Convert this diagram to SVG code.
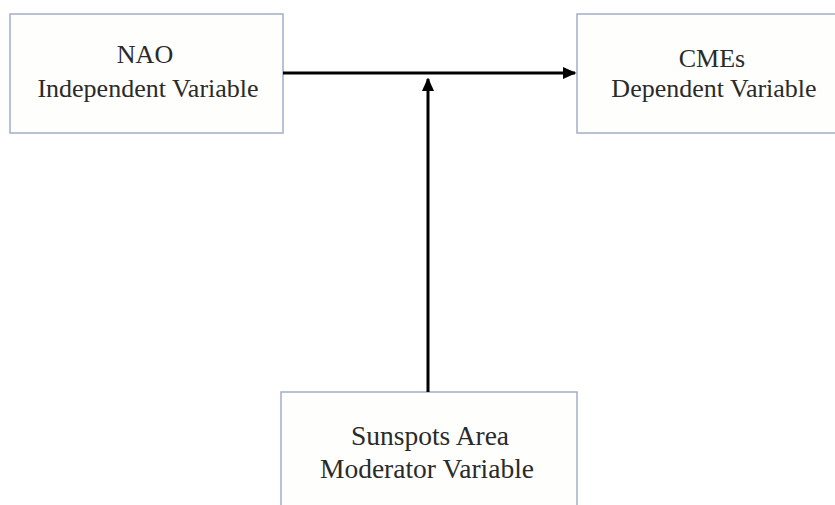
<svg xmlns="http://www.w3.org/2000/svg" width="835" height="505" viewBox="0 0 835 505">
<defs>
<style>
.box{fill:#fefefc;stroke:#a3afc6;stroke-width:1.5}
.t{font-family:"Liberation Serif","Times New Roman",serif;font-size:26px;fill:#2a2a2a;text-anchor:middle}
.b{font-size:27.5px}
.c{stroke:#000;stroke-width:3;fill:none}
</style>
<marker id="ah" markerWidth="4.5" markerHeight="4" refX="4" refY="2" orient="auto" markerUnits="strokeWidth">
<path d="M0,0 L4.5,2 L0,4 Z" fill="#000"/>
</marker>
</defs>
<rect width="835" height="505" fill="#fff"/>
<g id="nao">
<rect class="box" x="10" y="14" width="273" height="119"/>
<text class="t" x="145" y="63">NAO</text>
<text class="t" x="148" y="97">Independent Variable</text>
</g>
<g id="cmes">
<rect class="box" x="577" y="14" width="270" height="119"/>
<text class="t" x="712" y="67">CMEs</text>
<text class="t" x="714" y="97">Dependent Variable</text>
</g>
<g id="sunspots">
<rect class="box" x="281" y="392" width="296" height="125"/>
<text class="t b" x="430" y="445">Sunspots Area</text>
<text class="t b" x="427" y="478">Moderator Variable</text>
</g>
<g id="connectors">
<line class="c" x1="283" y1="73" x2="575" y2="73" marker-end="url(#ah)"/>
<line class="c" x1="428" y1="392" x2="428" y2="79" marker-end="url(#ah)"/>
</g>
</svg>
